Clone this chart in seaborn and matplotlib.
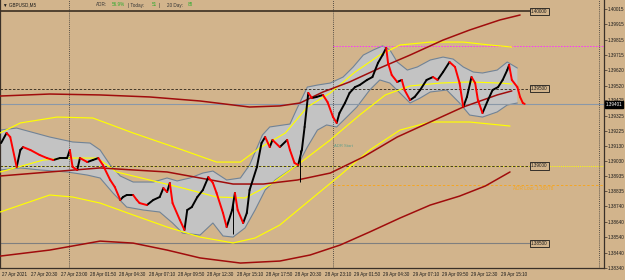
import numpy as np
import pandas as pd
import matplotlib
matplotlib.use('Agg')
import matplotlib.pyplot as plt
import seaborn as sns

sns.set_style('white')
plt.rcParams['font.family'] = ['Liberation Sans', 'DejaVu Sans']

BG = '#d2b48c'

# --- price path (M5 bar index, price) ---
price_bar = [-1, 5, 9, 16, 20, 23, 31, 41, 49, 56, 63, 71, 74, 77, 82, 85, 93, 99, 105, 110,
             118, 123, 129, 132, 136, 143, 147, 150, 158, 165, 172, 176, 180, 183, 186, 194, 199, 202, 207, 213,
             219, 225, 230, 234, 241, 245, 251, 254, 257, 263, 267, 270, 278, 283, 287, 292, 295, 303, 311, 314,
             319, 323, 327, 330, 334, 338, 343, 350, 355, 361, 365, 368, 374, 379, 385, 390, 398, 404, 410, 415,
             419, 421, 425, 431, 436, 439, 445, 450, 456, 463, 470, 475, 481, 488, 494, 499, 503, 507, 512, 516,
             519, 524, 530, 535, 541, 546, 551, 553, 556, 562, 565, 568, 570]
price = [1.39148, 1.39213, 1.39187, 1.38993, 1.39103, 1.39122, 1.39103, 1.39071, 1.39051, 1.39038,
         1.39051, 1.39051, 1.39103, 1.38993, 1.38974, 1.39051, 1.39025, 1.39038, 1.39051, 1.39006,
         1.38909, 1.38864, 1.38780, 1.38799, 1.38812, 1.38812, 1.38780, 1.38760, 1.38747, 1.38780,
         1.38799, 1.38857, 1.38831, 1.38890, 1.38760, 1.38650, 1.38586, 1.38715, 1.38734, 1.38799,
         1.38844, 1.38928, 1.38890, 1.38825, 1.38696, 1.38605, 1.38715, 1.38825, 1.38715, 1.38631,
         1.38696, 1.38844, 1.38993, 1.39148, 1.39187, 1.39122, 1.39168, 1.39122, 1.39168, 1.39103,
         1.39019, 1.39006, 1.39103, 1.39252, 1.39472, 1.39439, 1.39446, 1.39459, 1.39413, 1.39316,
         1.39278, 1.39342, 1.39407, 1.39472, 1.39510, 1.39523, 1.39556, 1.39575, 1.39666, 1.39717,
         1.39763, 1.39666, 1.39588, 1.39543, 1.39556, 1.39491, 1.39426, 1.39446, 1.39491, 1.39556,
         1.39575, 1.39556, 1.39607, 1.39672, 1.39640, 1.39536, 1.39381, 1.39446, 1.39575, 1.39536,
         1.39426, 1.39342, 1.39426, 1.39491, 1.39510, 1.39556, 1.39620, 1.39653, 1.39556, 1.39510,
         1.39446, 1.39407, 1.39401]
# long candle wicks
wick_bar = [325, 252]
wick_lo = [1.38896, 1.38560]
wick_hi = [1.39103, 1.38760]

# --- grey channel ---
band_up_bar = [-2, 16, 52, 77, 96, 107, 118, 129, 143, 165, 180, 191, 205, 219, 230, 245, 260, 270, 284, 292,
               314, 322, 333, 344, 358, 372, 383, 394, 405, 415, 423, 431, 442, 453, 467, 481, 492, 503, 514, 524,
               540, 551, 562]
band_up = [1.39232, 1.39245, 1.39187, 1.39155, 1.39148, 1.39103, 1.39006, 1.38935, 1.38896, 1.38896,
           1.38922, 1.38903, 1.38922, 1.38954, 1.38967, 1.38909, 1.38922, 1.39006, 1.39200, 1.39252,
           1.39271, 1.39375, 1.39510, 1.39523, 1.39536, 1.39575, 1.39640, 1.39717, 1.39750, 1.39776,
           1.39750, 1.39672, 1.39620, 1.39640, 1.39685, 1.39704, 1.39691, 1.39640, 1.39607, 1.39601,
           1.39620, 1.39672, 1.39633]
band_lo_bar = [-2, 20, 41, 71, 93, 107, 121, 136, 154, 172, 186, 197, 216, 230, 241, 252, 265, 276, 287, 298,
               314, 322, 333, 344, 354, 365, 376, 387, 401, 412, 423, 434, 445, 456, 467, 485, 499, 510, 524, 540,
               551, 562]
band_lo = [1.38974, 1.38987, 1.38974, 1.38961, 1.38941, 1.38922, 1.38825, 1.38734, 1.38715, 1.38702,
           1.38631, 1.38566, 1.38553, 1.38631, 1.38547, 1.38540, 1.38599, 1.38715, 1.38844, 1.38909,
           1.38974, 1.39000, 1.39122, 1.39232, 1.39265, 1.39252, 1.39316, 1.39381, 1.39491, 1.39556,
           1.39536, 1.39472, 1.39407, 1.39439, 1.39478, 1.39491, 1.39407, 1.39329, 1.39316, 1.39349,
           1.39394, 1.39407]

# --- yellow envelope ---
ylw_up_bar = [-2, 20, 60, 99, 143, 197, 234, 260, 281, 309, 333, 358, 385, 412, 434, 467, 503, 532, 556]
ylw_up = [1.39213, 1.39278, 1.39316, 1.39310, 1.39213, 1.39103, 1.39025, 1.39025, 1.39116, 1.39213,
          1.39381, 1.39472, 1.39607, 1.39717, 1.39782, 1.39801, 1.39801, 1.39782, 1.39769]
ylw_mid_bar = [-2, 45, 71, 104, 125, 161, 197, 234, 265, 292, 325, 358, 390, 418, 445, 478, 510, 543, 556]
ylw_mid = [1.38961, 1.39038, 1.39051, 1.39051, 1.38961, 1.38909, 1.38857, 1.38799, 1.38793, 1.38877,
           1.39019, 1.39168, 1.39329, 1.39459, 1.39517, 1.39536, 1.39543, 1.39536, 1.39530]
ylw_lo_bar = [-2, 52, 77, 107, 143, 180, 216, 252, 276, 303, 336, 369, 401, 434, 467, 510, 554]
ylw_lo = [1.38702, 1.38812, 1.38799, 1.38760, 1.38683, 1.38605, 1.38540, 1.38502, 1.38534, 1.38618,
          1.38780, 1.38941, 1.39103, 1.39232, 1.39284, 1.39284, 1.39258]

# --- dark red envelope ---
red_up_bar = [-2, 52, 107, 161, 216, 270, 303, 325, 350, 379, 412, 445, 481, 510, 543, 565]
red_up = [1.39452, 1.39465, 1.39459, 1.39446, 1.39420, 1.39381, 1.39388, 1.39407, 1.39478, 1.39543,
          1.39633, 1.39717, 1.39814, 1.39879, 1.39944, 1.39976]
red_mid_bar = [-2, 52, 107, 143, 180, 216, 252, 285, 322, 358, 394, 431, 467, 503, 540, 556]
red_mid = [1.38935, 1.38961, 1.38987, 1.38974, 1.38961, 1.38922, 1.38883, 1.38883, 1.38909, 1.38954,
           1.39058, 1.39187, 1.39284, 1.39381, 1.39459, 1.39485]
red_lo_bar = [-2, 52, 107, 143, 180, 216, 260, 303, 336, 369, 401, 434, 467, 499, 527, 554]
red_lo = [1.38417, 1.38456, 1.38514, 1.38501, 1.38456, 1.38405, 1.38372, 1.38385, 1.38424, 1.38489,
          1.38573, 1.38663, 1.38747, 1.38805, 1.38870, 1.38961]

# --- levels / labels ---
levels = [1.40000, 1.39500, 1.39000, 1.38500]
level_labels = ['1.40000', '1.39500', '1.39000', '1.38500']
last_price = 1.39401
adr_high = 1.39776
adr_low = 1.38878
day_sep_bars = [73, 361, 651]
tick_bars = [0, 32, 64, 96, 128, 160, 192, 224, 256, 288, 320, 352, 384, 416, 448, 480, 512, 544]
tick_labels = ['27 Apr 2021', '27 Apr 20:30', '27 Apr 23:00', '28 Apr 01:50', '28 Apr 04:30',
               '28 Apr 07:10', '28 Apr 09:50', '28 Apr 12:30', '28 Apr 15:10', '28 Apr 17:50',
               '28 Apr 20:30', '28 Apr 23:10', '29 Apr 01:50', '29 Apr 04:30', '29 Apr 07:10',
               '29 Apr 09:50', '29 Apr 12:30', '29 Apr 15:10']
yticks = [1.40015, 1.39915, 1.39815, 1.39715, 1.39620, 1.39520, 1.39425, 1.39325, 1.39225,
          1.39130, 1.39030, 1.38935, 1.38835, 1.38740, 1.38640, 1.38540, 1.38440, 1.38340]

FS = 3.3
fig = plt.figure(figsize=(6.25, 2.8), dpi=100)
fig.patch.set_facecolor(BG)
ax = fig.add_axes([0, 12 / 280, 604 / 625, 268 / 280])
ax.set_facecolor(BG)
x0, x1 = -2.18, 656.5
ax.set_xlim(x0, x1)
ax.set_ylim(1.38340, 1.40073)

# channel
ax.fill(np.r_[band_up_bar, band_lo_bar[::-1]], np.r_[band_up, band_lo[::-1]],
        color='#c3c3c3', lw=0, zorder=1)
for bx, by in [(band_up_bar, band_up), (band_lo_bar, band_lo)]:
    sns.lineplot(x=bx, y=by, color='#718396', lw=0.8, sort=False, estimator=None, ax=ax, zorder=2)

# horizontal levels
ax.plot([x0, 576], [levels[0]] * 2, color='#2e2418', lw=1.1, zorder=2)
ax.plot([x0, 576], [levels[1]] * 2, color='#2e2418', lw=0.6, ls=(0, (3, 2)), zorder=2)
ax.plot([x0, x1], [levels[2]] * 2, color='#ffff00', lw=0.7, ls=(0, (1, 1.2)), zorder=2)
ax.plot([x0, 576], [levels[2] - 0.00002] * 2, color='#2e2418', lw=0.6, ls=(0, (3, 2)), zorder=2)
ax.plot([x0, 576], [levels[3]] * 2, color='#7f7f7f', lw=0.8, zorder=2)
ax.plot([x0, x1], [last_price] * 2, color='#8a98a8', lw=0.8, zorder=2)
ax.plot([day_sep_bars[1], x1], [adr_high] * 2, color='#ff30ff', lw=0.7, ls=(0, (1.5, 1.5)), zorder=2)
ax.plot([day_sep_bars[1], x1], [adr_low] * 2, color='#f5a623', lw=0.7, ls=(0, (2.5, 2)), zorder=2)
for b in day_sep_bars:
    ax.axvline(b, color='#303030', lw=0.6, ls=(0, (1, 1.5)), zorder=2)

# envelopes
for bx, by, col in [(ylw_up_bar, ylw_up, '#ffff00'), (ylw_mid_bar, ylw_mid, '#ffff00'),
                    (ylw_lo_bar, ylw_lo, '#ffff00')]:
    sns.lineplot(x=bx, y=by, color=col, lw=0.85, sort=False, estimator=None, ax=ax, zorder=3)
for bx, by in [(red_up_bar, red_up), (red_mid_bar, red_mid), (red_lo_bar, red_lo)]:
    sns.lineplot(x=bx, y=by, color='#a00c0c', lw=1.1, sort=False, estimator=None, ax=ax, zorder=3)

# price path, black when rising, red when falling
rows = []
for i in range(len(price) - 1):
    d = 'up' if price[i + 1] >= price[i] else 'down'
    rows.append((price_bar[i], price[i], i, d))
    rows.append((price_bar[i + 1], price[i + 1], i, d))
seg = pd.DataFrame(rows, columns=['bar', 'price', 'seg', 'dir'])
sns.lineplot(data=seg, x='bar', y='price', units='seg', hue='dir',
             palette={'up': '#000000', 'down': '#ff0000'}, estimator=None, sort=False,
             legend=False, lw=1.4, ax=ax, zorder=4)
ax.vlines(wick_bar, wick_lo, wick_hi, color='#000000', lw=0.7, zorder=4)

# level boxes
for lv, lab in zip(levels, level_labels):
    ax.text(577, lv, lab, fontsize=FS, va='center', ha='left', color='#1a1a1a', zorder=6,
            bbox=dict(boxstyle='square,pad=0.25', fc=BG, ec='#1a1a1a', lw=0.6))

ax.text(362, 1.39129, 'ADR Start', fontsize=3.0, color='#5f9f8a', va='center', zorder=6)
ax.text(557, 1.38852, 'ADR Low: 1.38878', fontsize=3.4, color='#f5a623', va='center', zorder=6)

# axes styling
ax.spines['top'].set_visible(False)
for s in ['left', 'right', 'bottom']:
    ax.spines[s].set_color('#3a3028')
    ax.spines[s].set_linewidth(0.9)
ax.set_xticks(tick_bars)
ax.set_xticklabels(tick_labels, ha='left', fontsize=FS, color='#1a1a1a')
ax.yaxis.tick_right()
ax.set_yticks(yticks)
ax.set_yticklabels([f'{v:.5f}' for v in yticks], fontsize=FS, color='#1a1a1a')
ax.tick_params(axis='both', length=2, width=0.5, color='#3a3028', pad=1, direction='out')
ax.tick_params(axis='y', left=False)
ax.set_xlabel('')
ax.set_ylabel('')
ax.text(1.003, last_price - 0.00004, '1.39401', transform=ax.get_yaxis_transform(), fontsize=FS,
        color='white', va='center', ha='left', clip_on=False, zorder=7,
        bbox=dict(boxstyle='square,pad=0.12', fc='black', ec='black'))

# header texts
ty = 1 - 5 / 280
fig.text(3 / 625, ty, '\u25bc GBPUSD,M5', fontsize=FS, va='center', color='#1a1a1a')
for xp, txt, col in [(96, 'ADR:', '#333333'), (112, '56.9%', '#2faa2f'), (128, '| Today:', '#333333'),
                     (152, '51', '#2faa2f'), (159, '|', '#333333'), (167, '20 Day:', '#333333'),
                     (188, '88', '#2faa2f')]:
    fig.text(xp / 625, ty, txt, fontsize=FS, va='center', color=col)

fig.savefig('out.png', dpi=100, facecolor=BG)
